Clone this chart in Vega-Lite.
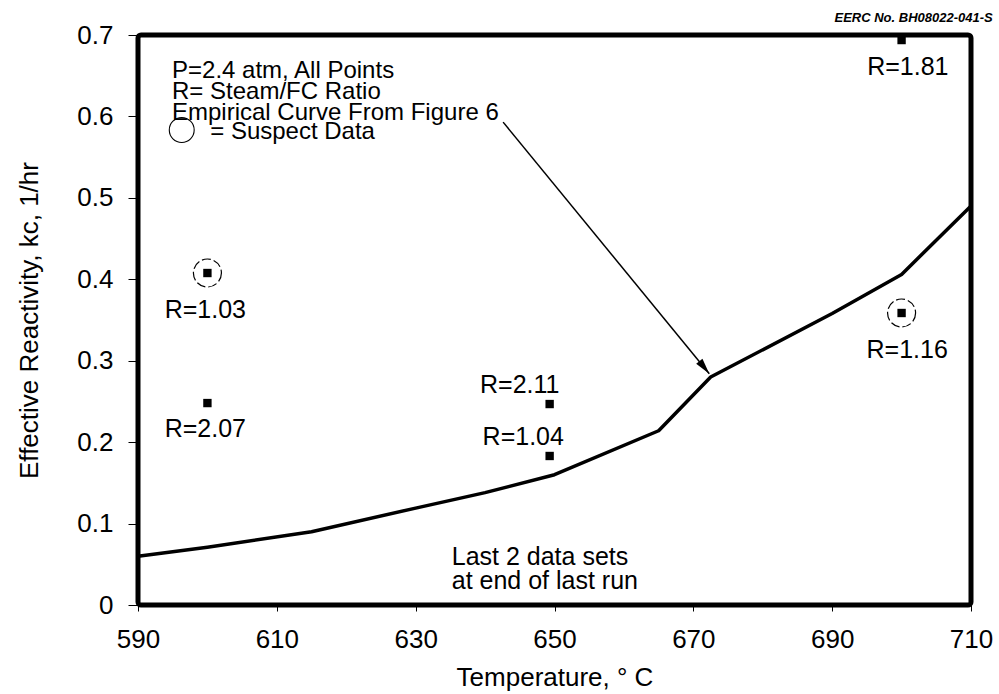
{
  "$schema": "https://vega.github.io/schema/vega-lite/v6.json",
  "width": 833,
  "height": 570,
  "autosize": "none",
  "padding": {"left": 138, "top": 35, "right": 28, "bottom": 89},
  "background": "white",
  "title": {"text": "EERC No. BH08022-041-S", "anchor": "end", "fontSize": 13, "fontStyle": "italic", "fontWeight": "bold", "font": "Liberation Sans", "offset": -3, "color": "black"},
  "config": {
    "font": "Liberation Sans",
    "view": {"stroke": "black", "strokeWidth": 5, "cornerRadius": 3},
    "axis": {"domain": false, "grid": false, "labelFont": "Liberation Sans", "labelFontSize": 26, "labelColor": "black", "tickColor": "black", "tickWidth": 1, "titleFont": "Liberation Sans", "titleFontSize": 26, "titleFontWeight": "normal", "titleColor": "black", "labelFlush": false, "labelOverlap": false}
  },
  "datasets": {
    "curve": [
      {"T": 590, "k": 0.06}, {"T": 600, "k": 0.071}, {"T": 615, "k": 0.09}, {"T": 630, "k": 0.119},
      {"T": 640, "k": 0.138}, {"T": 650, "k": 0.16}, {"T": 665, "k": 0.214}, {"T": 672.5, "k": 0.28},
      {"T": 690, "k": 0.358}, {"T": 700, "k": 0.406}, {"T": 710, "k": 0.49}
    ],
    "points": [
      {"T": 600, "k": 0.4077, "R": "1.03", "suspect": true},
      {"T": 600, "k": 0.248, "R": "2.07", "suspect": false},
      {"T": 649.3, "k": 0.2468, "R": "2.11", "suspect": false},
      {"T": 649.3, "k": 0.183, "R": "1.04", "suspect": false},
      {"T": 700, "k": 0.3586, "R": "1.16", "suspect": true},
      {"T": 700, "k": 0.6938, "R": "1.81", "suspect": false}
    ],
    "labels": [
      {"T": 599.7, "k": 0.352, "text": "R=1.03"},
      {"T": 599.7, "k": 0.206, "text": "R=2.07"},
      {"T": 645.0, "k": 0.2603, "text": "R=2.11"},
      {"T": 645.5, "k": 0.1965, "text": "R=1.04"},
      {"T": 700.8, "k": 0.3033, "text": "R=1.16"},
      {"T": 700.9, "k": 0.651, "text": "R=1.81"}
    ],
    "notesTop": [
      {"T": 594.9, "k": 0.647, "text": "P=2.4 atm, All Points\nR= Steam/FC Ratio\nEmpirical Curve From Figure 6"},
      {"T": 600.4, "k": 0.5722, "text": "= Suspect Data"}
    ],
    "notesBottom": [
      {"T": 635.2, "k": 0.0491, "text": "Last 2 data sets\nat end of last run"}
    ],
    "legendCircle": [{"T": 596.3, "k": 0.5833}],
    "arrow": [{"T": 642.6, "k": 0.593, "T2": 672.3, "k2": 0.284}]
  },
  "encoding": {
    "x": {"field": "T", "type": "quantitative", "scale": {"domain": [590, 710], "nice": false, "zero": false},
      "axis": {"values": [590, 610, 630, 650, 670, 690, 710], "title": "Temperature, ° C", "tickSize": 6, "labelPadding": 15, "titlePadding": 12}},
    "y": {"field": "k", "type": "quantitative", "scale": {"domain": [0, 0.7], "nice": false, "zero": false},
      "axis": {"values": [0, 0.1, 0.2, 0.3, 0.4, 0.5, 0.6, 0.7], "labelExpr": "datum.value == 0 ? '0' : format(datum.value, '.1f')", "title": "Effective Reactivity, kc, 1/hr", "tickSize": 10, "labelPadding": 15, "titlePadding": 34}}
  },
  "layer": [
    {"data": {"name": "curve"}, "mark": {"type": "line", "color": "black", "strokeWidth": 3.5, "strokeJoin": "round", "strokeCap": "round"}},
    {"data": {"name": "arrow"}, "mark": {"type": "rule", "color": "black", "strokeWidth": 1.5},
      "encoding": {"x2": {"field": "T2"}, "y2": {"field": "k2"}}},
    {"data": {"name": "arrow"}, "mark": {"type": "point", "shape": "M0,-1L0.5,1L-0.5,1Z", "filled": true, "color": "black", "opacity": 1, "size": 256, "angle": 141.5, "xOffset": -5.0, "yOffset": -6.2},
      "encoding": {"x": {"field": "T2", "type": "quantitative"}, "y": {"field": "k2", "type": "quantitative"}}},
    {"data": {"name": "points"}, "mark": {"type": "point", "shape": "square", "filled": true, "color": "black", "opacity": 1, "size": 70}},
    {"data": {"name": "points"}, "transform": [{"filter": "datum.suspect"}], "mark": {"type": "point", "shape": "circle", "filled": false, "color": "black", "opacity": 1, "strokeWidth": 1.2, "strokeDash": [9, 3], "size": 784}},
    {"data": {"name": "legendCircle"}, "mark": {"type": "point", "shape": "circle", "filled": false, "color": "black", "opacity": 1, "strokeWidth": 1.1, "size": 620}},
    {"data": {"name": "labels"}, "mark": {"type": "text", "fontSize": 25, "align": "center", "baseline": "alphabetic", "color": "black"},
      "encoding": {"text": {"field": "text"}}},
    {"data": {"name": "notesTop"}, "mark": {"type": "text", "fontSize": 24, "align": "left", "baseline": "alphabetic", "color": "black", "lineBreak": "\n", "lineHeight": 21},
      "encoding": {"text": {"field": "text"}}},
    {"data": {"name": "notesBottom"}, "mark": {"type": "text", "fontSize": 25, "align": "left", "baseline": "alphabetic", "color": "black", "lineBreak": "\n", "lineHeight": 24},
      "encoding": {"text": {"field": "text"}}}
  ]
}
